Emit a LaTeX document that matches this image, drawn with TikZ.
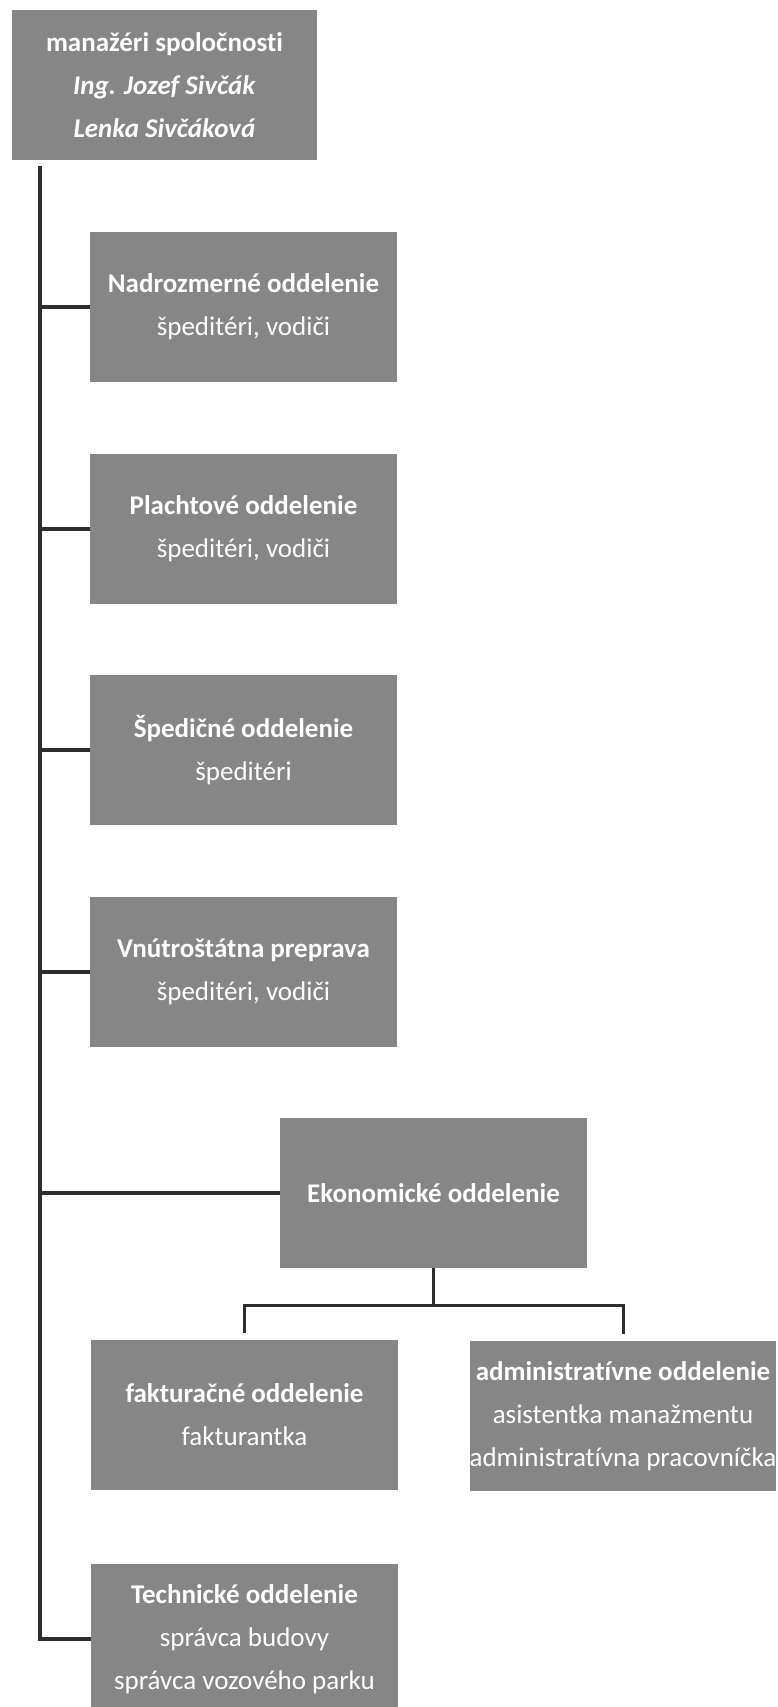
\documentclass[tikz,border=0pt]{standalone}
\usepackage{fontspec}
\setmainfont{Carlito}[Ligatures=NoCommon]
\usepackage{xcolor}
\definecolor{boxgray}{RGB}{134,134,134}
\definecolor{linegray}{RGB}{45,45,45}

\begin{document}
\begin{tikzpicture}[x=1pt,y=-1pt,
    box/.style={rectangle,fill=boxgray,text=white,inner sep=0pt,
      minimum width=307pt,minimum height=150pt,align=center,
      font=\fontsize{27}{43}\selectfont},
    conn/.style={draw=linegray,line width=4pt}]
  \useasboundingbox (0,0) rectangle (778,1707);
  \clip (0,0) rectangle (778,1707);

  \node[box,minimum width=305pt] (M) at (164.5,85)
    {\textbf{manažéri spoločnosti}\\\textbf{\textit{Ing. Jozef Sivčák}}\\\textbf{\textit{Lenka Sivčáková}}};
  \node[box] (D1) at (243.5,307)  {\textbf{Nadrozmerné oddelenie}\\špeditéri, vodiči};
  \node[box] (D2) at (243.5,529)  {\textbf{Plachtové oddelenie}\\špeditéri, vodiči};
  \node[box] (D3) at (243.5,750)  {\textbf{Špedičné oddelenie}\\špeditéri};
  \node[box] (D4) at (243.5,972)  {\textbf{Vnútroštátna preprava}\\špeditéri, vodiči};
  \node[box] (E)  at (433.5,1193) {\textbf{Ekonomické oddelenie}};
  \node[box] (E1) at (244.5,1415) {\textbf{fakturačné oddelenie}\\fakturantka};
  \node[box,minimum width=306pt] (E2) at (623,1416)
    {\textbf{administratívne oddelenie}\\asistentka manažmentu\\administratívna pracovníčka};
  \node[box] (T)  at (244.5,1639) {\textbf{Technické oddelenie}\\správca budovy\\správca vozového parku};

  \coordinate (A0) at (40,166);
  \coordinate (A1) at (40,307);
  \coordinate (A2) at (40,529);
  \coordinate (A3) at (40,750);
  \coordinate (A4) at (40,972);
  \coordinate (A5) at (40,1193);
  \coordinate (A6) at (40,1639);

  % trunk
  \draw[conn] (A0) -- (A6) -- (T);
  \draw[conn] (A1) -- (D1);
  \draw[conn] (A2) -- (D2);
  \draw[conn] (A3) -- (D3);
  \draw[conn] (A4) -- (D4);
  \draw[conn] (A5) -- (E);

  % Ekonomicke
  \draw[conn,line width=3pt,shorten >=7pt] (E.south) -- ++(0,37) -| (E1.north);
  \draw[conn,line width=3pt,shorten >=7pt] (E.south) ++(0,37) -| (E2.north);
\end{tikzpicture}
\end{document}
